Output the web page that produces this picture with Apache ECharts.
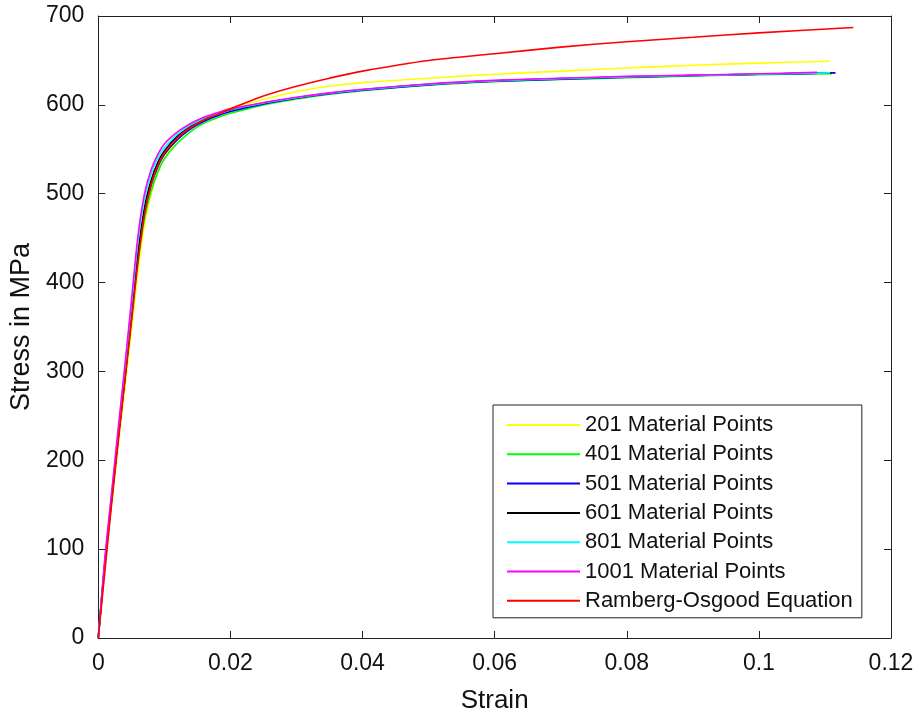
<!DOCTYPE html>
<html>
<head>
<meta charset="utf-8">
<script src="https://cdn.jsdelivr.net/npm/echarts@6/dist/echarts.min.js"></script>
<style>
html,body{margin:0;padding:0;background:#fff;}
#chart{width:918px;height:719px;}
</style>
</head>
<body>
<div id="chart"></div>
<script>
// Strain grid shared by all curves (last point per series appended separately)
const strainGrid = [0, 0.001, 0.002, 0.003, 0.004, 0.005, 0.006, 0.007, 0.008, 0.009, 0.010, 0.012, 0.014, 0.016, 0.018, 0.020, 0.025, 0.030, 0.035, 0.040, 0.050, 0.060, 0.070, 0.080, 0.090, 0.100];

const names = ['201 Material Points', '401 Material Points', '501 Material Points', '601 Material Points', '801 Material Points', '1001 Material Points', 'Ramberg-Osgood Equation'];
const colors = ['#FFFF00', '#00FF00', '#0000FF', '#000000', '#00FFFF', '#FF00FF', '#FF0000'];

// stress values (MPa) on strainGrid
const stress201  = [0, 80, 148, 215, 280, 345, 412, 465, 500, 524, 540, 561, 574, 583.5, 590.5, 596.5, 606, 615, 621, 625, 630, 634.5, 638, 641.5, 644.5, 647];
const stress401  = [0, 85, 152, 222, 288, 355, 422, 472, 503, 524, 539, 557, 570, 579.5, 585.5, 590.5, 600, 606.5, 612, 616, 622, 626, 628.5, 630.5, 632.5, 634];
const stress501  = [0, 85, 155, 225, 290, 360, 428, 479, 510, 530, 544, 561, 573, 581.5, 587.5, 592.5, 601, 607.5, 612.5, 616.5, 622.5, 626.5, 629, 631, 633, 634.5];
const stress601  = [0, 85, 155, 225, 292, 363, 435, 485, 515, 535, 548, 565, 576, 584.5, 590, 594.5, 602, 608, 613, 617, 623, 627, 629.5, 631.5, 633, 634.5];
const stress801  = [0, 88, 160, 230, 300, 372, 445, 494, 522, 540, 552, 567, 577.5, 585, 590.5, 595, 602, 608, 613, 617, 623, 627, 629.5, 631.5, 633, 634.5];
const stress1001 = [0, 90, 162, 235, 305, 378, 452, 500, 527, 544, 556, 569.5, 579, 586, 591, 595.5, 602.5, 608.5, 613.5, 617.5, 623.5, 627.5, 630, 632, 633.5, 635];
const stressRO   = [0, 75, 150, 220, 288, 355, 423, 477, 510, 531, 546, 563, 574.5, 583, 589, 595.5, 610, 621, 630, 638, 650, 657.5, 665, 671, 676, 681];

// final points [strain, stress]
const endStrain = [0.1107, 0.111, 0.1116, 0.111, 0.1108, 0.1088, 0.1143];
const endStress = [649, 635, 636, 636, 636, 636.5, 687];

const xTicks = [0, 0.02, 0.04, 0.06, 0.08, 0.1, 0.12];
const yTicks = [0, 100, 200, 300, 400, 500, 600, 700];

const allStress = [stress201, stress401, stress501, stress601, stress801, stress1001, stressRO];

const series = allStress.map((arr, i) => {
  const data = strainGrid.map((s, k) => [s, arr[k]]);
  data.push([endStrain[i], endStress[i]]);
  return {
    name: names[i],
    type: 'line',
    data: data,
    symbol: 'none',
    smooth: 0.3,
    lineStyle: { color: colors[i], width: 1.6 },
    itemStyle: { color: colors[i] },
    xAxisIndex: 0, yAxisIndex: 0,
    animation: false
  };
});

const FONT = 'Liberation Sans, Arial, sans-serif';

const chart = echarts.init(document.getElementById('chart'), null, { renderer: 'canvas' });
chart.setOption({
  backgroundColor: '#fff',
  animation: false,
  grid: { left: 93, right: 27, top: 16, bottom: 76, show: false },
  legend: {
    data: names.map((n, i) => ({ name: n, itemStyle: { color: colors[i] } })),
    orient: 'vertical',
    left: 493, top: 405,
    backgroundColor: '#fff',
    borderColor: '#222',
    borderWidth: 1,
    borderRadius: 0,
    padding: [9, 9, 6, 14],
    itemWidth: 73,
    itemHeight: 14,
    itemGap: 7.3,
    icon: 'path://M0,6 L73,6 L73,8 L0,8 Z',
    textStyle: { fontFamily: FONT, fontSize: 22, color: '#111', lineHeight: 22 }
  },
  xAxis: [{
    type: 'value', min: 0, max: 0.12, interval: 0.02,
    name: 'Strain', nameLocation: 'middle', nameGap: 50,
    nameTextStyle: { fontFamily: FONT, fontSize: 26, color: '#111' },
    axisLine: { show: true, onZero: false, lineStyle: { color: '#222', width: 1 } },
    axisTick: { show: true, inside: true, length: 7, lineStyle: { color: '#222' } },
    axisLabel: { fontFamily: FONT, fontSize: 23, color: '#111', margin: 14,
      formatter: v => { const t = xTicks.find(x => Math.abs(x - v) < 1e-9); return t === undefined ? '' : String(t); } },
    splitLine: { show: false }
  }, {
    type: 'value', min: 0, max: 0.12, interval: 0.02, position: 'top',
    axisLine: { show: true, onZero: false, lineStyle: { color: '#222', width: 1 } },
    axisTick: { show: true, inside: true, length: 7, lineStyle: { color: '#222' } },
    axisLabel: { show: false }, splitLine: { show: false }
  }],
  yAxis: [{
    type: 'value', min: 0, max: 700, interval: 100,
    name: 'Stress in MPa', nameLocation: 'middle', nameGap: 58,
    nameTextStyle: { fontFamily: FONT, fontSize: 27, color: '#111' },
    axisLine: { show: true, onZero: false, lineStyle: { color: '#222', width: 1 } },
    axisTick: { show: true, inside: true, length: 7, lineStyle: { color: '#222' } },
    axisLabel: { fontFamily: FONT, fontSize: 23, color: '#111', margin: 14,
      formatter: v => String(yTicks.find(y => Math.abs(y - v) < 1e-9)) },
    splitLine: { show: false }
  }, {
    type: 'value', min: 0, max: 700, interval: 100, position: 'right',
    axisLine: { show: true, onZero: false, lineStyle: { color: '#222', width: 1 } },
    axisTick: { show: true, inside: true, length: 7, lineStyle: { color: '#222' } },
    axisLabel: { show: false }, splitLine: { show: false }
  }],
  series: series
});
</script>
</body>
</html>
